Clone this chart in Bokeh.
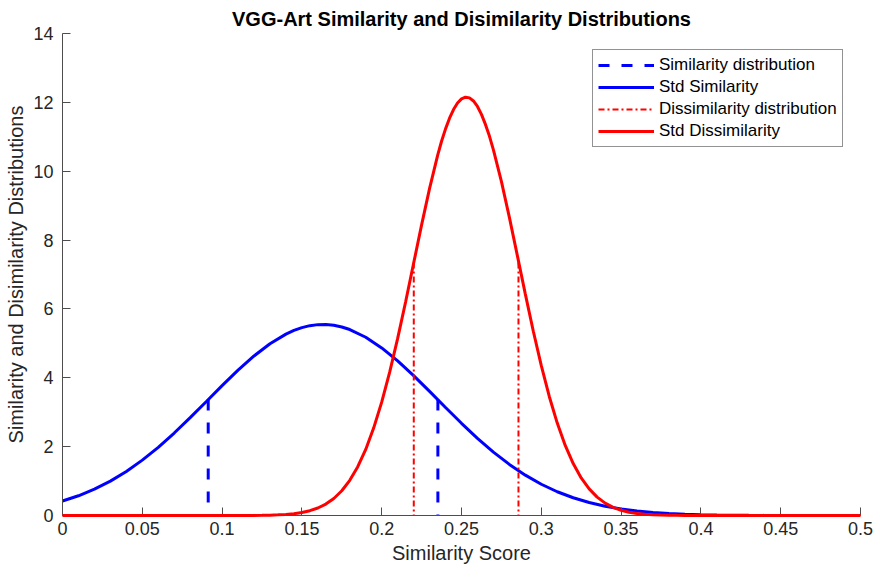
from bokeh.plotting import figure
from bokeh.models import FixedTicker, Range1d, Legend, LegendItem
from bokeh.embed import file_html
from bokeh.resources import INLINE

# ---- data ----
x_ticks = [0, 0.05, 0.1, 0.15, 0.2, 0.25, 0.3, 0.35, 0.4, 0.45, 0.5]
x_tick_labels = ["0", "0.05", "0.1", "0.15", "0.2", "0.25", "0.3", "0.35", "0.4", "0.45", "0.5"]
y_ticks = [0, 2, 4, 6, 8, 10, 12, 14]

# Std Similarity curve (blue)
sim_x = [0.00, 0.01, 0.02, 0.03, 0.04, 0.05, 0.06, 0.07, 0.08, 0.09,
         0.10, 0.11, 0.12, 0.13, 0.14, 0.145, 0.15, 0.155, 0.16, 0.165, 0.17, 0.175, 0.18, 0.19,
         0.20, 0.21, 0.22, 0.23, 0.24, 0.25, 0.26, 0.27, 0.28, 0.29,
         0.30, 0.31, 0.32, 0.33, 0.34, 0.35, 0.36, 0.37, 0.38, 0.39,
         0.40, 0.41, 0.42, 0.43, 0.44, 0.45, 0.46, 0.47, 0.48, 0.49, 0.50]
sim_y = [0.422, 0.573, 0.764, 0.998, 1.279, 1.608, 1.981, 2.396, 2.842, 3.305,
         3.772, 4.221, 4.634, 4.989, 5.269, 5.375, 5.457, 5.514, 5.544, 5.548, 5.525, 5.476, 5.401, 5.178,
         4.868, 4.491, 4.063, 3.605, 3.137, 2.678, 2.242, 1.841, 1.484, 1.172,
         0.908, 0.690, 0.515, 0.376, 0.270, 0.190, 0.131, 0.0887, 0.0589, 0.0383,
         0.0245, 0.0153, 0.0094, 0.0057, 0.0034, 0.0020, 0.0011, 0.0006, 0.0004, 0.0002, 0.0001]

# Std Dissimilarity curve (red)
dis_x = [0.00, 0.05, 0.100, 0.105, 0.110, 0.115, 0.120, 0.125, 0.130, 0.135,
         0.140, 0.145, 0.150, 0.155, 0.160, 0.165, 0.170, 0.175, 0.180, 0.185,
         0.190, 0.195, 0.200, 0.205, 0.210, 0.215, 0.220, 0.225, 0.230, 0.235,
         0.2375, 0.240, 0.2425, 0.245, 0.2475, 0.250, 0.2525, 0.255, 0.2575, 0.260,
         0.2625, 0.265, 0.2675, 0.270, 0.275, 0.280, 0.285,
         0.290, 0.295, 0.300, 0.305, 0.310, 0.315, 0.320, 0.325, 0.330, 0.335,
         0.340, 0.345, 0.350, 0.355, 0.360, 0.365, 0.370, 0.375, 0.380, 0.385,
         0.390, 0.395, 0.400, 0.45, 0.50]
dis_y = [0.0, 0.0, 0.0002, 0.0005, 0.0009, 0.0017, 0.0033, 0.0060, 0.0107, 0.0188,
         0.0322, 0.0537, 0.0877, 0.140, 0.218, 0.332, 0.495, 0.719, 1.021, 1.417,
         1.920, 2.546, 3.293, 4.164, 5.144, 6.210, 7.325, 8.440, 9.503, 10.45,
         10.87, 11.23, 11.54, 11.79, 11.98, 12.10, 12.15, 12.13, 12.04, 11.88,
         11.65, 11.36, 11.02, 10.62, 9.703, 8.658, 7.549,
         6.431, 5.352, 4.351, 3.457, 2.684, 2.036, 1.509, 1.092, 0.772, 0.534,
         0.360, 0.238, 0.153, 0.0965, 0.0593, 0.0357, 0.0210, 0.0120, 0.0068, 0.0037,
         0.0020, 0.0010, 0.0005, 0.0, 0.0]

# distribution markers (mean -/+ std) and their heights
sim_marks_x = [0.0913, 0.2352]
sim_marks_y = [3.37, 3.37]
dis_marks_x = [0.2201, 0.2857]
dis_marks_y = [7.35, 7.35]
base = [0, 0]

FONT = "Liberation Sans"
TXT = "#262626"

p = figure(width=880, height=579, output_backend="svg", toolbar_location=None,
           x_range=Range1d(0, 0.5), y_range=Range1d(0, 14),
           min_border_left=62, min_border_right=20, min_border_top=33, min_border_bottom=64,
           title="VGG-Art Similarity and Disimilarity Distributions")
p.title.align = "center"
p.title.text_font = FONT
p.title.text_font_size = "20px"
p.title.text_font_style = "bold"
p.title.text_color = "black"
p.title.standoff = 7
p.title.offset = 0

p.grid.visible = False
p.outline_line_color = None
p.background_fill_color = "white"
p.border_fill_color = "white"

for ax in (p.xaxis[0], p.yaxis[0]):
    ax.axis_line_color = "#4d4d4d"
    ax.axis_line_width = 1
    ax.major_tick_line_color = "#4d4d4d"
    ax.major_tick_in = 8
    ax.major_tick_out = 0
    ax.minor_tick_line_color = None
    ax.major_label_text_font = FONT
    ax.major_label_text_font_size = "18px"
    ax.major_label_text_color = TXT
    ax.axis_label_text_font = FONT
    ax.axis_label_text_font_size = "20px"
    ax.axis_label_text_font_style = "normal"
    ax.axis_label_text_color = TXT

p.xaxis.ticker = FixedTicker(ticks=x_ticks)
p.xaxis.major_label_overrides = {t: l for t, l in zip(x_ticks, x_tick_labels)}
p.yaxis.ticker = FixedTicker(ticks=y_ticks)
p.xaxis.axis_label = "Similarity Score"
p.yaxis.axis_label = "Similarity and Disimilarity Distributions"
p.xaxis.major_label_standoff = 6
p.yaxis.major_label_standoff = 9
p.xaxis.axis_label_standoff = 4
p.yaxis.axis_label_standoff = 3

# segments drawn from the top down so the dash pattern starts at the curve
r1 = p.segment(x0=sim_marks_x, y0=sim_marks_y, x1=sim_marks_x, y1=base,
               line_color="#0000ff", line_width=3, line_dash="11 12")
r2 = p.line(sim_x, sim_y, line_color="#0000ff", line_width=3)
r3 = p.segment(x0=dis_marks_x, y0=dis_marks_y, x1=dis_marks_x, y1=base,
               line_color="#ff0000", line_width=2, line_dash="6 3 2 3")
r4 = p.line(dis_x, dis_y, line_color="#ff0000", line_width=3, level="overlay")

legend = Legend(items=[
    LegendItem(label="Similarity distribution", renderers=[r1]),
    LegendItem(label="Std Similarity", renderers=[r2]),
    LegendItem(label="Dissimilarity distribution", renderers=[r3]),
    LegendItem(label="Std Dissimilarity", renderers=[r4]),
], location=(530, 368))
legend.border_line_color = TXT
legend.border_line_width = 1
legend.background_fill_color = "white"
legend.background_fill_alpha = 1
legend.label_text_font = FONT
legend.label_text_font_size = "17px"
legend.label_text_color = "black"
legend.glyph_width = 56
legend.glyph_height = 20
legend.label_height = 20
legend.spacing = 2
legend.padding = 5
legend.margin = 0
legend.label_standoff = 5
p.add_layout(legend)

open("out.html", "w").write(file_html(p, INLINE))
